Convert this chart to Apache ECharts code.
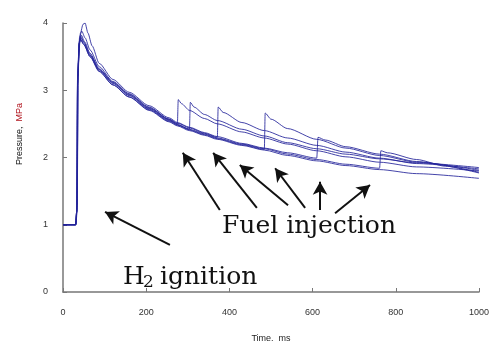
<!DOCTYPE html>
<html>
<head>
<meta charset="utf-8">
<script src="https://cdn.jsdelivr.net/npm/echarts@6/dist/echarts.min.js"></script>
<style>
  html, body { margin: 0; padding: 0; background: #fff; }
  #chart { width: 492px; height: 341px; }
</style>
</head>
<body>
<div id="chart"></div>
<script>
// 压力曲线数据 [时间 ms, 压力 MPa]
const curveA = [[0,1],[31,1],[34,1.3],[36,3.2],[40,3.75],[44,3.82],[52,3.72],[65,3.55],[87,3.32],[120,3.12],[159,2.94],[207,2.74],[255,2.57],[275,2.5],[277,2.86],[285,2.8],[304,2.7],[340,2.58],[371,2.5],[430,2.38],[484,2.29],[540,2.2],[610,2.1],[680,2.01],[761,1.93],[850,1.86],[1000,1.8]]
const curveB = [[0,1],[30,1],[33,1.2],[35,3.1],[39,3.7],[43,3.78],[50,3.7],[65,3.52],[87,3.3],[120,3.1],[159,2.92],[207,2.72],[255,2.55],[275,2.49],[304,2.42],[306,2.82],[315,2.75],[340,2.64],[371,2.55],[430,2.42],[484,2.32],[540,2.22],[610,2.13],[680,2.05],[761,1.98],[850,1.92],[1000,1.85]]
const curveC = [[0,1],[31,1],[34,1.2],[36,3.3],[40,3.8],[45,3.88],[53,3.78],[65,3.6],[87,3.35],[120,3.13],[159,2.95],[207,2.75],[255,2.57],[275,2.51],[304,2.44],[340,2.36],[371,2.3],[373,2.75],[385,2.67],[430,2.52],[484,2.4],[540,2.29],[610,2.18],[680,2.08],[761,1.99],[850,1.91],[1000,1.83]]
const curveD = [[0,1],[30,1],[33,1.2],[35,3.2],[39,3.7],[42,3.75],[50,3.68],[65,3.5],[87,3.28],[120,3.08],[159,2.9],[207,2.71],[255,2.54],[275,2.48],[304,2.41],[340,2.34],[371,2.28],[430,2.19],[484,2.12],[486,2.66],[500,2.57],[540,2.43],[610,2.27],[680,2.14],[761,2.03],[850,1.93],[1000,1.81]]
const curveE = [[0,1],[31,1],[34,1.3],[37,3.4],[42,3.85],[48,3.98],[53,4.0],[60,3.85],[70,3.66],[87,3.4],[120,3.16],[159,2.97],[207,2.77],[255,2.59],[275,2.52],[304,2.45],[340,2.37],[371,2.31],[430,2.21],[484,2.14],[540,2.07],[610,1.99],[613,2.3],[630,2.26],[680,2.16],[761,2.05],[850,1.94],[1000,1.77]]
const curveF = [[0,1],[30,1],[33,1.2],[35,3.2],[39,3.72],[43,3.8],[50,3.72],[65,3.53],[87,3.31],[120,3.11],[159,2.93],[207,2.73],[255,2.56],[275,2.49],[304,2.42],[340,2.35],[371,2.29],[430,2.2],[484,2.13],[540,2.05],[610,1.97],[680,1.9],[761,1.84],[764,2.1],[780,2.07],[850,1.97],[920,1.87],[1000,1.78]]
const curveBase = [[0,1],[30,1],[33,1.2],[35,3.1],[39,3.68],[42,3.76],[50,3.68],[65,3.5],[87,3.28],[120,3.08],[159,2.9],[207,2.7],[255,2.53],[275,2.47],[304,2.4],[340,2.33],[371,2.27],[430,2.18],[484,2.11],[540,2.03],[610,1.95],[680,1.88],[761,1.82],[850,1.76],[1000,1.69]]

const xTicks = [0, 200, 400, 600, 800, 1000]
const yTicks = [0, 1, 2, 3, 4]

// 箭头：[尾部, 头部]
const fuelArrows = [
  [[377,1.22],[288,2.07]],
  [[466,1.25],[361,2.07]],
  [[541,1.29],[425,1.89]],
  [[582,1.25],[510,1.84]],
  [[618,1.22],[618,1.64]],
  [[654,1.17],[738,1.59]]
]
const ignitionArrow = [[257,0.70],[101,1.19]]

const lineColor = '#23239a'
const chart = echarts.init(document.getElementById('chart'))

const curves = [curveA, curveB, curveC, curveD, curveE, curveF, curveBase]
const series = curves.map(d => ({
  type: 'line',
  data: d,
  symbol: 'none',
  smooth: 0.25,
  smoothMonotone: 'x',
  lineStyle: {color: lineColor, width: 1, opacity: 0.85},
  z: 2
}))

// 箭头用 markLine 画
const arrowLines = fuelArrows.concat([ignitionArrow]).map(a => [
  {coord: a[0], symbol: 'none'},
  {coord: a[1], symbol: 'arrow', symbolSize: [11, 13]}
])
series.push({
  type: 'line',
  data: [],
  silent: true,
  markLine: {
    silent: true,
    symbol: ['none', 'arrow'],
    label: {show: false},
    lineStyle: {color: '#111', width: 2, type: 'solid'},
    data: arrowLines,
    animation: false
  }
})

const option = {
  animation: false,
  grid: {left: 63, right: 13, top: 23, bottom: 49, outerBoundsMode: 'none'},
  xAxis: {
    type: 'value',
    min: 0, max: 1000, interval: 200,
    name: 'Time,  ms',
    nameLocation: 'middle',
    nameGap: 42,
    nameTextStyle: {fontSize: 9, color: '#222', fontFamily: 'Liberation Sans'},
    axisLine: {lineStyle: {color: '#777', width: 1.5}},
    axisTick: {inside: true, length: 4, lineStyle: {color: '#777'}},
    axisLabel: {fontSize: 9, color: '#333', margin: 16, fontFamily: 'Liberation Sans',
      formatter: v => xTicks.includes(v) ? String(v) : ''},
    splitLine: {show: false}
  },
  yAxis: {
    type: 'value',
    min: 0, max: 4, interval: 1,
    axisLine: {show: true, lineStyle: {color: '#777', width: 1.5}},
    axisTick: {show: true, inside: true, length: 4, lineStyle: {color: '#777'}},
    axisLabel: {fontSize: 9, color: '#333', margin: 15, fontFamily: 'Liberation Sans',
      formatter: v => yTicks.includes(v) ? String(v) : ''},
    splitLine: {show: false}
  },
  graphic: [
    {
      type: 'text', left: 15, top: 103, rotation: Math.PI / 2, originX: 0, originY: 0,
      style: {
        text: '{a|Pressure,  }{b|MPa}',
        rich: {
          a: {fontSize: 9, fill: '#111', fontFamily: 'Liberation Sans'},
          b: {fontSize: 9, fill: '#b0101a', fontFamily: 'Liberation Sans'}
        }
      }
    },
    {
      type: 'text', left: 222, top: 214,
      style: {text: 'Fuel injection', fontSize: 25, fontFamily: 'DejaVu Serif', fill: '#111'}
    },
    {
      type: 'text', left: 123, top: 265,
      style: {text: 'H', fontSize: 25, fontFamily: 'DejaVu Serif', fill: '#111'}
    },
    {
      type: 'text', left: 143, top: 274,
      style: {text: '2', fontSize: 17, fontFamily: 'DejaVu Serif', fill: '#111'}
    },
    {
      type: 'text', left: 160, top: 265,
      style: {text: 'ignition', fontSize: 25, fontFamily: 'DejaVu Serif', fill: '#111'}
    }
  ],
  series: series
}

chart.setOption(option)
</script>
</body>
</html>
